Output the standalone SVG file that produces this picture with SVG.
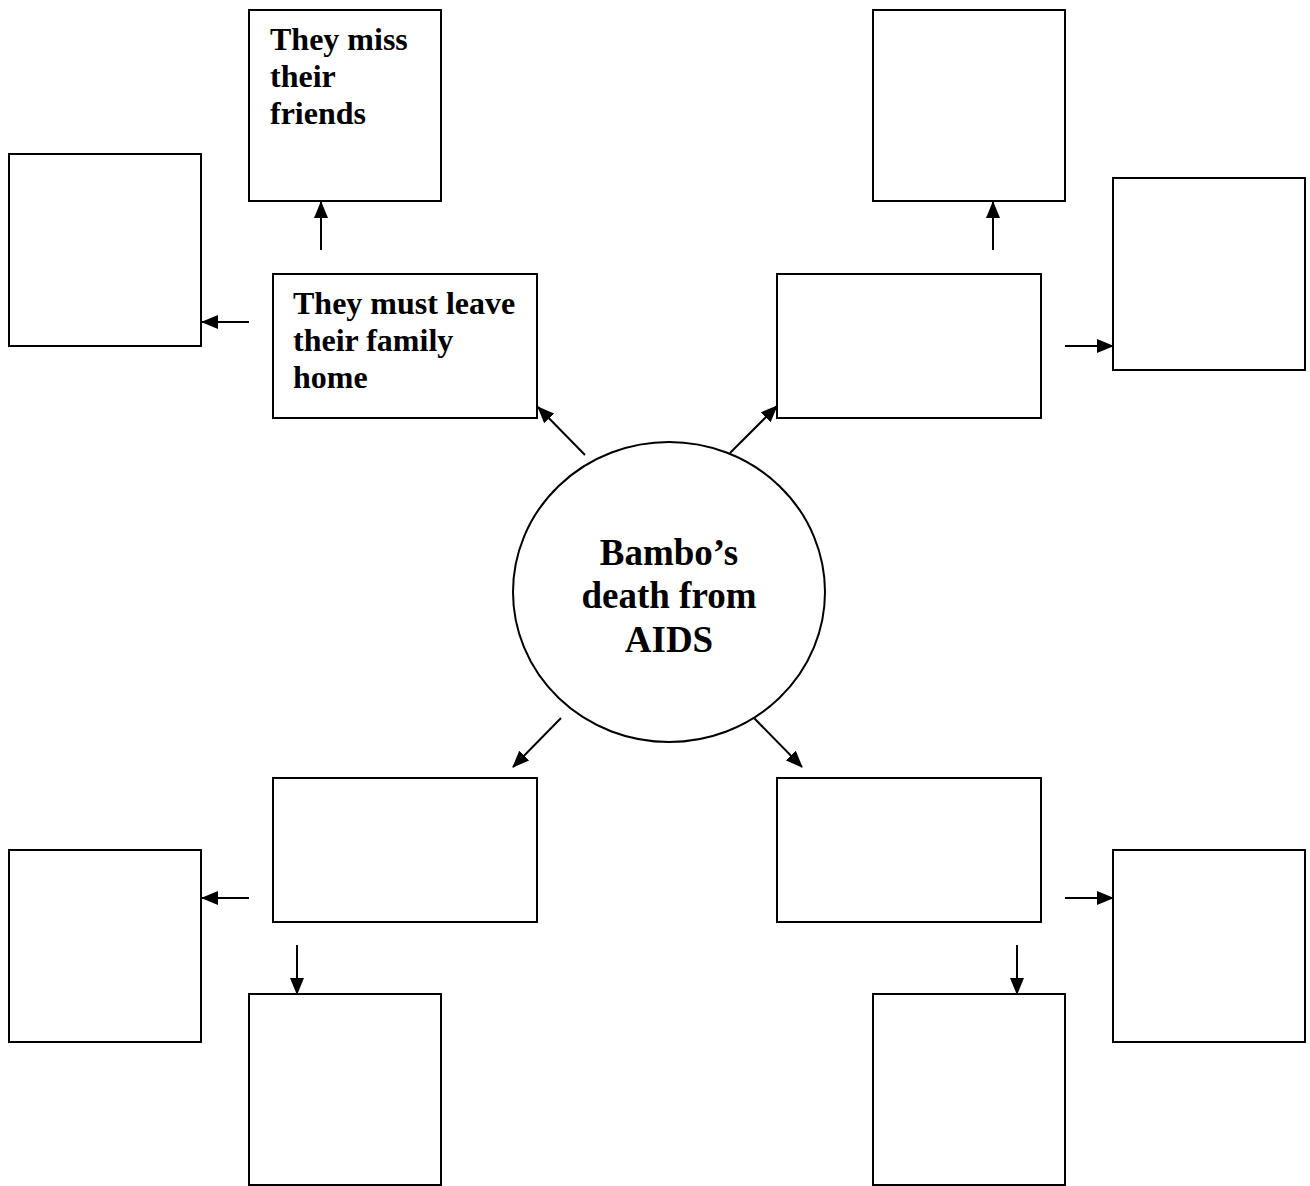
<svg xmlns="http://www.w3.org/2000/svg" width="1310" height="1186" viewBox="0 0 1310 1186">
<defs>
<marker id="ah" markerWidth="17" markerHeight="14" refX="16" refY="7" orient="auto" markerUnits="userSpaceOnUse">
<path d="M0,0 L17,7 L0,14 Z" fill="#000"/>
</marker>
<style>
.box{fill:#fff;stroke:#000;stroke-width:2}
.t{font-family:"Liberation Serif","Times New Roman",serif;font-weight:bold;font-size:32px;fill:#000}
.c{font-family:"Liberation Serif","Times New Roman",serif;font-weight:bold;font-size:37px;fill:#000;text-anchor:middle}
.ln{stroke:#000;stroke-width:2;fill:none;marker-end:url(#ah)}
</style>
</defs>
<rect width="1310" height="1186" fill="#fff"/>
<g id="connectors">
<line class="ln" x1="321" y1="250" x2="321" y2="202"/>
<line class="ln" x1="249" y1="322" x2="202" y2="322"/>
<line class="ln" x1="585" y1="455" x2="538" y2="407"/>
<line class="ln" x1="730" y1="453" x2="777" y2="406"/>
<line class="ln" x1="993" y1="250" x2="993" y2="202"/>
<line class="ln" x1="1065" y1="346" x2="1113" y2="346"/>
<line class="ln" x1="561" y1="718" x2="513" y2="767"/>
<line class="ln" x1="754" y1="718" x2="802" y2="767"/>
<line class="ln" x1="249" y1="898" x2="202" y2="898"/>
<line class="ln" x1="297" y1="945" x2="297" y2="994"/>
<line class="ln" x1="1065" y1="898" x2="1113" y2="898"/>
<line class="ln" x1="1017" y1="945" x2="1017" y2="994"/>
</g>
<g id="center">
<ellipse cx="669" cy="592" rx="156" ry="150" class="box"/>
<text class="c" x="669" y="565">Bambo’s</text>
<text class="c" x="669" y="608">death from</text>
<text class="c" x="669" y="652">AIDS</text>
</g>
<g id="friends">
<rect class="box" x="249" y="10" width="192" height="191"/>
<text class="t" x="270" y="50">They miss</text>
<text class="t" x="270" y="87">their</text>
<text class="t" x="270" y="124">friends</text>
</g>
<g id="leave">
<rect class="box" x="273" y="274" width="264" height="144"/>
<text class="t" x="293" y="314">They must leave</text>
<text class="t" x="293" y="351">their family</text>
<text class="t" x="293" y="388">home</text>
</g>
<g id="tl-left"><rect class="box" x="9" y="154" width="192" height="192"/></g>
<g id="tr-mid"><rect class="box" x="777" y="274" width="264" height="144"/></g>
<g id="tr-top"><rect class="box" x="873" y="10" width="192" height="191"/></g>
<g id="tr-right"><rect class="box" x="1113" y="178" width="192" height="192"/></g>
<g id="bl-mid"><rect class="box" x="273" y="778" width="264" height="144"/></g>
<g id="bl-left"><rect class="box" x="9" y="850" width="192" height="192"/></g>
<g id="bl-bottom"><rect class="box" x="249" y="994" width="192" height="191"/></g>
<g id="br-mid"><rect class="box" x="777" y="778" width="264" height="144"/></g>
<g id="br-right"><rect class="box" x="1113" y="850" width="192" height="192"/></g>
<g id="br-bottom"><rect class="box" x="873" y="994" width="192" height="191"/></g>
</svg>
